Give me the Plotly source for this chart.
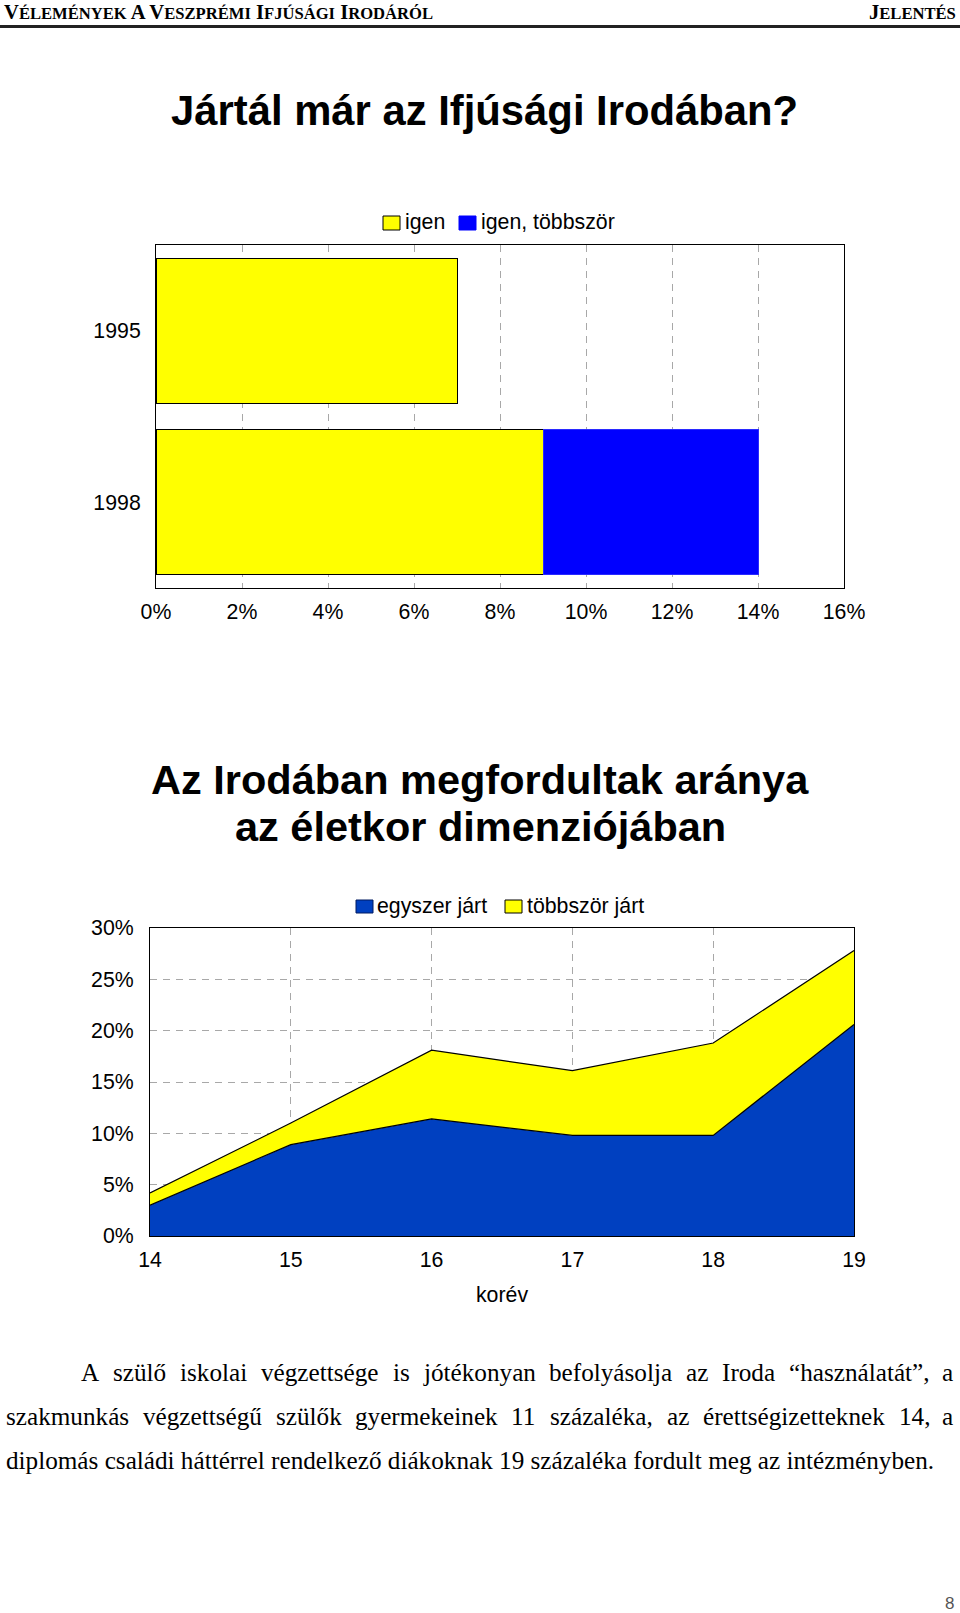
import plotly.graph_objects as go

W, H = 960, 1613

# ---------------- data ----------------
years = ["1995", "1998"]
igen = [7, 9]
igen_tobbszor = [None, 5]
bar_ticks = [0, 2, 4, 6, 8, 10, 12, 14, 16]
bar_ticktext = ["0%", "2%", "4%", "6%", "8%", "10%", "12%", "14%", "16%"]

ages = [14, 15, 16, 17, 18, 19]
egyszer = [3.0, 8.9, 11.4, 9.8, 9.8, 20.6]
tobbszor = [1.2, 2.1, 6.7, 6.3, 9.0, 7.2]
area_yticks = [0, 5, 10, 15, 20, 25, 30]
area_yticktext = ["0%", "5%", "10%", "15%", "20%", "25%", "30%"]

title1 = "Jártál már az Ifjúsági Irodában?"
title2a = "Az Irodában megfordultak aránya"
title2b = "az életkor dimenziójában"
para = [
    "A szülő iskolai végzettsége is jótékonyan befolyásolja az Iroda “használatát”, a",
    "szakmunkás végzettségű szülők gyermekeinek 11 százaléka, az érettségizetteknek 14, a",
    "diplomás családi háttérrel rendelkező diákoknak 19 százaléka fordult meg az intézményben.",
]

SANS = "Arial, 'Liberation Sans', sans-serif"
SERIF = "'Times New Roman', 'Liberation Serif', serif"
TICK = 21.3


def px(x):
    return x / W


def py(y):
    return 1 - y / H


fig = go.Figure()

# ---------------- bar chart ----------------
fig.add_trace(go.Bar(
    y=years, x=igen, orientation="h", name="igen",
    marker=dict(color="#FFFF00", line=dict(color="#000000", width=1)),
    xaxis="x", yaxis="y", showlegend=False, hoverinfo="skip"))
fig.add_trace(go.Bar(
    y=years, x=igen_tobbszor, orientation="h", name="igen, többször",
    marker=dict(color="#0000FF", line=dict(color="#2a2aff", width=1)),
    xaxis="x", yaxis="y", showlegend=False, hoverinfo="skip"))

# ---------------- area chart ----------------
fig.add_trace(go.Scatter(
    x=ages, y=egyszer, stackgroup="a", mode="lines", name="egyszer járt",
    line=dict(color="#000000", width=1.2), fillcolor="#0040C0",
    xaxis="x2", yaxis="y2", showlegend=False, hoverinfo="skip"))
fig.add_trace(go.Scatter(
    x=ages, y=tobbszor, stackgroup="a", mode="lines", name="többször járt",
    line=dict(color="#000000", width=1.2), fillcolor="#FFFF00",
    xaxis="x2", yaxis="y2", showlegend=False, hoverinfo="skip"))

axis_common = dict(showline=True, mirror=True, linecolor="#000000", linewidth=1,
                   zeroline=False, ticks="", tickfont=dict(family=SANS, size=TICK, color="#000"),
                   fixedrange=True, automargin=False)

fig.update_layout(
    width=W, height=H, autosize=False,
    margin=dict(l=0, r=0, t=0, b=0, pad=0),
    paper_bgcolor="white", plot_bgcolor="white",
    barmode="stack", bargap=0.154,
    font=dict(family=SANS, color="#000"),
    showlegend=False,
    xaxis=dict(domain=[px(156), px(844)], range=[0, 16], tickvals=bar_ticks,
               ticktext=bar_ticktext, showgrid=True, gridcolor="#a8a8a8", gridwidth=1,
               griddash="7px,6px", anchor="y", ticklabelstandoff=4, **axis_common),
    yaxis=dict(domain=[py(588), py(245)], type="category", categoryorder="array",
               categoryarray=years, autorange="reversed", showgrid=False,
               anchor="x", ticklabelstandoff=10, **axis_common),
    xaxis2=dict(domain=[px(150), px(854)], range=[14, 19], tickvals=ages,
                showgrid=True, gridcolor="#a8a8a8", gridwidth=1, griddash="7px,6px",
                anchor="y2", ticklabelstandoff=4,
                title=dict(text="korév", font=dict(family=SANS, size=TICK, color="#000"), standoff=16),
                **axis_common),
    yaxis2=dict(domain=[py(1236), py(928)], range=[0, 30], tickvals=area_yticks,
                ticktext=area_yticktext, showgrid=True, gridcolor="#a8a8a8", gridwidth=1,
                griddash="7px,6px", anchor="x2", ticklabelstandoff=11, **axis_common),
)

annotations = []
shapes = []


def text(x, y, s, size, family=SANS, xanchor="left", bold=False, color="#000"):
    annotations.append(dict(
        x=px(x), y=py(y), xref="paper", yref="paper", text=s, showarrow=False,
        xanchor=xanchor, yanchor="middle",
        font=dict(family=family, size=size, color=color, weight="bold" if bold else "normal"),
        borderpad=0))


def rect(x0, y0, x1, y1, fill, line):
    shapes.append(dict(type="rect", xref="paper", yref="paper",
                       x0=px(x0), x1=px(x1), y0=py(y1), y1=py(y0),
                       fillcolor=fill, line=dict(color=line, width=1)))


# header
sc = "<span style='font-size:16.6px'>%s</span>"
header_left = ("V" + sc % "ÉLEMÉNYEK" + " A V" + sc % "ESZPRÉMI" + " I" + sc % "FJÚSÁGI"
               + " I" + sc % "RODÁRÓL")
text(3, 12, header_left, 20.6, family=SERIF, bold=True)
text(957, 12, "J" + sc % "ELENTÉS", 20.6, family=SERIF, xanchor="right", bold=True)
shapes.append(dict(type="line", xref="paper", yref="paper", x0=0, x1=1, y0=py(26.5), y1=py(26.5),
                   line=dict(color="#222", width=3)))

# titles
text(484, 111, title1, 41.8, bold=True, xanchor="center")
text(480, 779, title2a, 41.5, bold=True, xanchor="center")
text(480, 826, title2b, 41.5, bold=True, xanchor="center")

# bar legend
rect(383, 216, 400, 230, "#FFFF00", "#000000")
text(404, 222, "igen", TICK)
rect(459, 216, 476, 230, "#0000FF", "#0000FF")
text(480, 222, "igen, többször", TICK)

# area legend
rect(356, 900, 373, 913, "#0040C0", "#001a60")
text(376, 906, "egyszer járt", TICK)
rect(505, 900, 522, 913, "#FFFF00", "#000000")
text(526, 906, "többször járt", TICK)

# paragraph (justified using Times metrics)
TW = {" ": 250, "A": 722, "I": 333, "a": 444, "b": 500, "c": 444, "d": 500, "e": 444,
      "f": 333, "g": 500, "h": 500, "i": 278, "j": 278, "k": 500, "l": 278, "m": 778,
      "n": 500, "o": 500, "p": 500, "r": 333, "s": 389, "t": 278, "u": 500, "v": 500,
      "y": 500, "z": 444, "á": 444, "é": 444, "í": 278, "ó": 500, "ö": 500, "ő": 500,
      "ú": 500, "ü": 500, "ű": 500, "1": 500, "4": 500, "9": 500, ",": 250, ".": 250,
      "“": 444, "”": 444}
PS = 25.2


def wwidth(w):
    return sum(TW.get(c, 500) for c in w) / 1000 * PS


def justify(line, x0, x1, y):
    words = line.split(" ")
    total = sum(wwidth(w) for w in words)
    gap = (x1 - x0 - total) / (len(words) - 1)
    x = x0
    for i, w in enumerate(words):
        if i == len(words) - 1:
            text(x1, y, w, PS, family=SERIF, xanchor="right")
        else:
            text(x, y, w, PS, family=SERIF)
        x += wwidth(w) + gap


justify(para[0], 80, 954, 1372)
justify(para[1], 5, 954, 1416)
text(5, 1460, para[2], PS, family=SERIF)

# page number
text(949, 1603, "8", 17, color="#555", xanchor="center")

fig.update_layout(annotations=annotations, shapes=shapes)
fig.write_html(
    "out.html",
    post_script="document.body.style.margin='0';document.body.style.padding='0';"
                "document.documentElement.style.overflow='hidden';",
)
